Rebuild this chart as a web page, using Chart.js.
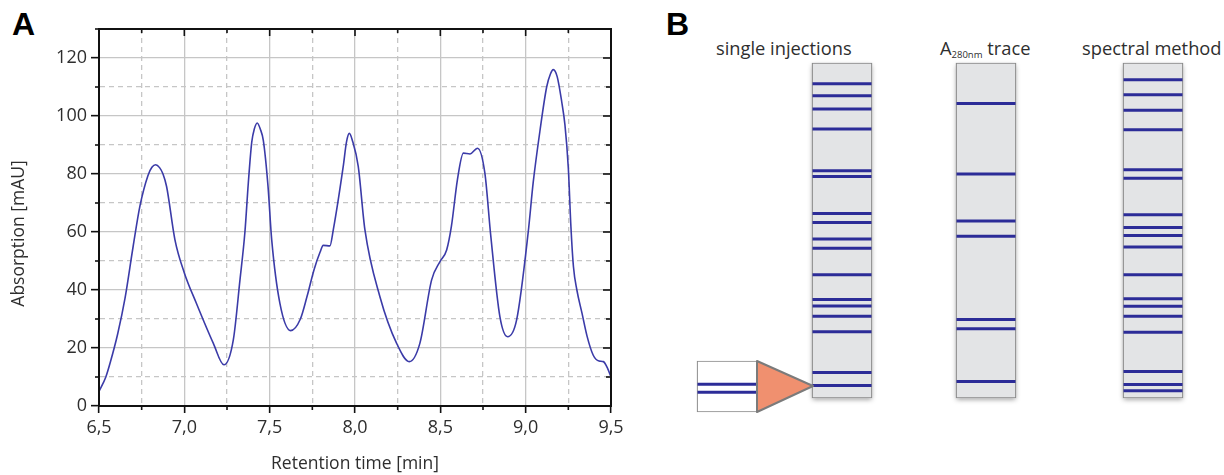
<!DOCTYPE html>
<html>
<head>
<meta charset="utf-8">
<script src="https://cdn.jsdelivr.net/npm/chart.js@4"></script>
<style>
  body { margin: 0; background: #fff; }
  #page { position: relative; width: 1224px; height: 475px; overflow: hidden; }
  canvas, .lbl { position: absolute; }
  .lbl { white-space: nowrap; color: #2e2e2e; font-family: "Open Sans", sans-serif; font-size: 18.3px; line-height: 18.3px; }
  .panel { font-family: "Liberation Sans", Arial, sans-serif; font-weight: bold; font-size: 32px; line-height: 32px; color: #000; }
  .sub { font-size: 9.5px; position: relative; top: 3px; }
</style>
</head>
<body>
<div id="page">
  <div class="lbl panel" style="left:12px; top:8px;">A</div>
  <div class="lbl panel" style="left:666px; top:8px;">B</div>
  <div class="lbl" style="left:716px; top:39px;">single injections</div>
  <div class="lbl" style="left:940px; top:39px;">A<span class="sub">280nm</span> trace</div>
  <div class="lbl" style="left:1082px; top:39px;">spectral method</div>

  <canvas id="chartA" width="640" height="475" style="left:0; top:0;"></canvas>
  <canvas id="laneSingle" width="80" height="356" style="left:802px; top:53px;"></canvas>
  <canvas id="laneA280" width="80" height="356" style="left:946px; top:53px;"></canvas>
  <canvas id="laneSpectral" width="80" height="356" style="left:1113px; top:53px;"></canvas>
  <canvas id="inset" width="140" height="71" style="left:687px; top:351px;"></canvas>
</div>
<script>
// chromatogram (panel A)
let retentionTime = [6.50, 6.54, 6.565, 6.61, 6.652, 6.70, 6.74, 6.787, 6.81, 6.832,
  6.855, 6.875, 6.896, 6.945, 7.00, 7.07, 7.17, 7.232, 7.287, 7.326,
  7.355, 7.375, 7.395, 7.41, 7.427, 7.445, 7.463, 7.49, 7.512, 7.56,
  7.623, 7.68, 7.72, 7.76, 7.795, 7.814, 7.853, 7.873, 7.931, 7.95,
  7.967, 7.985, 8.019, 8.058, 8.146, 8.244, 8.318, 8.38, 8.449, 8.498,
  8.537, 8.565, 8.60, 8.635, 8.674, 8.718, 8.761, 8.795, 8.849, 8.894,
  8.947, 9.015, 9.044, 9.084, 9.123, 9.145, 9.162, 9.185, 9.211, 9.23,
  9.25, 9.265, 9.28, 9.30, 9.33, 9.36, 9.396, 9.43, 9.455, 9.48,
  9.50];
let absorption = [5, 10, 14.8, 25, 37, 55, 69, 79.5, 82.3, 83.2,
  82.2, 80, 75.7, 57.3, 45.9, 35.5, 21.6, 14.2, 22.8, 43.5,
  60, 77, 91, 95.5, 97.6, 95.5, 91.5, 76, 57.3, 35.4,
  26, 30, 38, 47, 53, 55.4, 55.2, 60.8, 82.6, 91,
  94, 91.5, 82.6, 60.8, 37.7, 21.6, 15.3, 21.6, 43.5, 49.8,
  53.8, 62, 78, 87.2, 86.9, 88.9, 80.3, 59, 30.8, 23.9,
  29.7, 60, 77, 95, 110, 114.5, 116, 113.5, 105, 97,
  82, 62, 48, 40, 32, 24, 17.5, 15.5, 15.3, 13,
  10];

// fraction bands (panel B), position from top of lane in %
let laneNames = ['single injections', 'A280nm trace', 'spectral method'];
let singleBands = [6.2, 9.8, 13.7, 19.7, 32.2, 33.9, 44.9, 47.6, 52.5, 55.3,
  63.2, 70.6, 72.5, 75.6, 80.2, 92.4, 96.3];
let a280Bands = [12.1, 33.1, 47.2, 51.7, 76.6, 79.3, 95.1];
let spectralBands = [5.0, 9.5, 14.1, 19.9, 31.9, 34.4, 45.3, 49.1, 51.5, 54.9,
  63.2, 70.4, 72.6, 75.6, 80.4, 92.1, 96.0, 97.8];
let insetBands = [45.4, 61.1];

const textColor = '#2e2e2e';
const lineBlue = '#3b3ba8';
const bandBlue = '#2c2c98';
const gridGray = '#c6c6c6';

function isMajorX(v) { return Math.abs(v * 2 - Math.round(v * 2)) < 1e-6; }
function isMajorY(v) { return Math.round(v) % 20 === 0; }

// box border + minor / mirrored ticks, y title (sits a bit below the axis middle)
const openTitleAt = 59.5;
const framePlugin = {
  id: 'frame',
  afterDraw(chart) {
    const ctx = chart.ctx;
    const a = chart.chartArea;
    const xs = chart.scales.x, ys = chart.scales.y;
    ctx.save();
    ctx.strokeStyle = '#111';
    ctx.lineWidth = 1.6;
    function seg(x1, y1, x2, y2) { ctx.beginPath(); ctx.moveTo(x1, y1); ctx.lineTo(x2, y2); ctx.stroke(); }
    xs.ticks.forEach(function(t) {
      const px = xs.getPixelForValue(t.value);
      const major = isMajorX(t.value);
      seg(px, a.top, px, a.top + (major ? 7 : 4));
      if (!major) seg(px, a.bottom, px, a.bottom + 4);
    });
    ys.ticks.forEach(function(t) {
      const py = ys.getPixelForValue(t.value);
      const major = isMajorY(t.value);
      seg(a.right - (major ? 8 : 5), py, a.right, py);
      if (!major) seg(a.left - 4, py, a.left, py);
    });
    ctx.lineWidth = 2;
    ctx.strokeRect(a.left, a.top, a.right - a.left, a.bottom - a.top);

    ctx.translate(19, ys.getPixelForValue(openTitleAt));
    ctx.rotate(-Math.PI / 2);
    ctx.font = '17.5px "Open Sans"';
    ctx.fillStyle = textColor;
    ctx.textAlign = 'center';
    ctx.textBaseline = 'middle';
    ctx.fillText('Absorption [mAU]', 0, 0);
    ctx.restore();
  }
};

new Chart(document.getElementById('chartA'), {
  type: 'line',
  data: {
    datasets: [{
      data: retentionTime.map(function(t, i) { return { x: t, y: absorption[i] }; }),
      borderColor: lineBlue,
      borderWidth: 1.6,
      pointRadius: 0,
      cubicInterpolationMode: 'monotone',
      fill: false
    }]
  },
  options: {
    responsive: false,
    animation: false,
    events: [],
    layout: { padding: { top: 29, right: 29, left: 0, bottom: 0 } },
    plugins: { legend: { display: false }, tooltip: { enabled: false } },
    scales: {
      x: {
        type: 'linear', min: 6.5, max: 9.5,
        afterFit: function(s) { s.height = 69; },
        ticks: {
          stepSize: 0.25, autoSkip: false, maxRotation: 0, padding: 4,
          color: textColor, font: { family: 'Open Sans', size: 18 },
          callback: function(v) { return isMajorX(v) ? v.toFixed(1).replace('.', ',') : ''; }
        },
        grid: {
          color: gridGray, lineWidth: 1.3, tickLength: 7,
          tickColor: function(c) { return c.tick && isMajorX(c.tick.value) ? '#111' : 'rgba(0,0,0,0)'; },
          tickWidth: 1.6
        },
        border: {
          color: '#111', width: 2,
          dash: function(c) { return c.tick && !isMajorX(c.tick.value) ? [5, 4] : []; }
        },
        title: { display: true, text: 'Retention time [min]', color: textColor,
          font: { family: 'Open Sans', size: 17.5 }, padding: { top: 0, bottom: 0 } }
      },
      y: {
        min: 0, max: 130,
        afterFit: function(s) { s.width = 99; },
        ticks: {
          stepSize: 10, autoSkip: false, padding: 4,
          color: textColor, font: { family: 'Open Sans', size: 18 },
          callback: function(v) { return isMajorY(v) ? String(v) : ''; }
        },
        grid: {
          color: gridGray, lineWidth: 1.3, tickLength: 8,
          tickColor: function(c) { return c.tick && isMajorY(c.tick.value) ? '#111' : 'rgba(0,0,0,0)'; },
          tickWidth: 1.6
        },
        border: {
          color: '#111', width: 2,
          dash: function(c) { return c.tick && !isMajorY(c.tick.value) ? [5, 4] : []; }
        }
      }
    }
  },
  plugins: [framePlugin]
});

// soft drop shadow, put on the borderless copy of the lane box (dataset 2)
const shadowPlugin = {
  id: 'laneShadow',
  beforeDatasetDraw(chart, args) {
    if (args.index !== 2) return;
    const ctx = chart.ctx;
    ctx.save();
    ctx.shadowColor = 'rgba(0,0,0,0.4)';
    ctx.shadowBlur = 5;
    ctx.shadowOffsetX = 0;
    ctx.shadowOffsetY = 2;
  },
  afterDatasetDraw(chart, args) {
    if (args.index !== 2) return;
    chart.ctx.restore();
  }
};

// arrow from inset to the lane
const arrowPlugin = {
  id: 'arrow',
  afterDraw(chart) {
    const ctx = chart.ctx;
    const a = chart.chartArea;
    const mid = (a.top + a.bottom) / 2;
    ctx.save();
    ctx.beginPath();
    ctx.moveTo(a.right, a.top);
    ctx.lineTo(a.right + 56, mid - 0.5);
    ctx.lineTo(a.right, a.bottom);
    ctx.closePath();
    ctx.fillStyle = '#f0906f';
    ctx.fill();
    ctx.strokeStyle = '#7b7b7b';
    ctx.lineWidth = 2;
    ctx.lineJoin = 'round';
    ctx.stroke();
    ctx.restore();
  }
};

function makeLane(id, label, bands, fill, shadow, extra) {
  const pad = id === 'inset'
    ? { left: 10, right: 70, top: 10, bottom: 10 }
    : { left: 10, right: 10, top: 10, bottom: 11 };
  const plugins = [];
  if (shadow) plugins.push(shadowPlugin);
  if (extra) plugins.push(extra);
  const datasets = [{
    type: 'line',
    data: bands.map(function(b) { return { x: label, y: b }; }),
    showLine: false,
    pointStyle: 'line',
    pointRadius: 29.5,
    pointBorderWidth: 3,
    pointBorderColor: bandBlue,
    pointBackgroundColor: bandBlue,
    clip: false
  }, {
    data: [[0, 100]],
    backgroundColor: fill,
    borderColor: '#8a8a8a',
    borderWidth: 1.2,
    borderSkipped: false,
    barPercentage: 1,
    categoryPercentage: 1,
    grouped: false,
    clip: false
  }];
  if (shadow) {
    datasets.push({
      data: [[0, 100]],
      backgroundColor: fill,
      borderWidth: 0,
      barPercentage: 1,
      categoryPercentage: 1,
      grouped: false,
      clip: false
    });
  }
  return new Chart(document.getElementById(id), {
    type: 'bar',
    data: { labels: [label], datasets: datasets },
    options: {
      responsive: false,
      animation: false,
      events: [],
      layout: { padding: pad, autoPadding: false },
      plugins: { legend: { display: false }, tooltip: { enabled: false } },
      scales: {
        x: { display: false },
        y: { display: false, min: 0, max: 100, reverse: true }
      }
    },
    plugins: plugins
  });
}

makeLane('laneSingle', laneNames[0], singleBands, '#e3e4e6', true);
makeLane('laneA280', laneNames[1], a280Bands, '#e3e4e6', true);
makeLane('laneSpectral', laneNames[2], spectralBands, '#e3e4e6', true);
makeLane('inset', laneNames[0], insetBands, '#ffffff', false, arrowPlugin);
</script>
</body>
</html>
